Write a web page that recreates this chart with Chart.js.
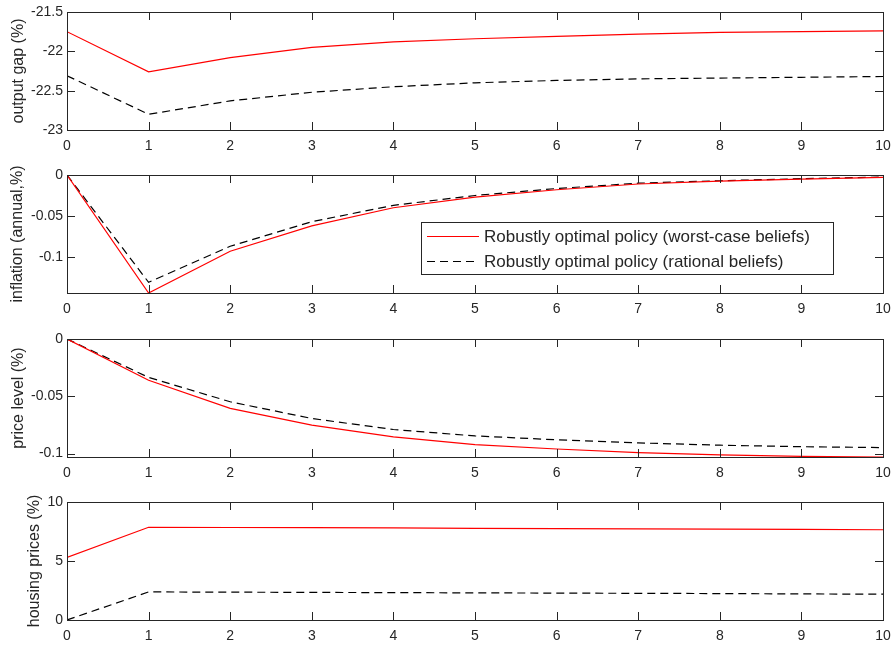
<!DOCTYPE html>
<html><head><meta charset="utf-8">
<script src="https://cdn.jsdelivr.net/npm/chart.js@4/dist/chart.umd.min.js"></script>
<style>
html,body{margin:0;padding:0;background:#fff;width:892px;height:646px;overflow:hidden;position:relative}
canvas{position:absolute;left:0}
</style></head><body>
<canvas id="c0" width="892" height="158" style="top:0px"></canvas>
<canvas id="c1" width="892" height="158" style="top:163px"></canvas>
<canvas id="c2" width="892" height="158" style="top:327px"></canvas>
<canvas id="c3" width="892" height="158" style="top:490px"></canvas>
<script>
// ---- data ----
const periods = [0,1,2,3,4,5,6,7,8,9,10];
const xTicks = [0,1,2,3,4,5,6,7,8,9,10];
const seriesLabels = ['Robustly optimal policy (worst-case beliefs)', 'Robustly optimal policy (rational beliefs)'];

const outputGapWorst    = [-21.75,-22.26,-22.08,-21.95,-21.88,-21.84,-21.81,-21.78,-21.76,-21.75,-21.74];
const outputGapRational = [-22.31,-22.80,-22.63,-22.52,-22.45,-22.40,-22.37,-22.35,-22.34,-22.33,-22.32];
const outputGapTicks = [-23,-22.5,-22,-21.5];

const inflationWorst    = [0,-0.144,-0.093,-0.062,-0.040,-0.027,-0.018,-0.011,-0.0075,-0.005,-0.003];
const inflationRational = [0,-0.131,-0.087,-0.057,-0.037,-0.025,-0.0165,-0.010,-0.007,-0.0045,-0.0025];
const inflationTicks = [-0.1,-0.05,0];

const priceWorst    = [0,-0.036,-0.0606,-0.0752,-0.0855,-0.0922,-0.0960,-0.0991,-0.1012,-0.1024,-0.1030];
const priceRational = [0,-0.0335,-0.0548,-0.0694,-0.0790,-0.0846,-0.0880,-0.0907,-0.0927,-0.0940,-0.0948];
const priceTicks = [-0.1,-0.05,0];

const housingWorst    = [5.3,7.86,7.84,7.82,7.80,7.77,7.75,7.72,7.70,7.68,7.65];
const housingRational = [0,2.38,2.36,2.34,2.32,2.30,2.28,2.26,2.24,2.21,2.19];
const housingTicks = [0,5,10];

// ---- style ----
const AX = '#262626';
const FONT = '"Liberation Sans", Arial, Helvetica, sans-serif';
Chart.defaults.font.family = FONT;
Chart.defaults.color = AX;

const matlabAxes = {
  id: 'matlabAxes',
  afterDatasetsDraw(chart) {
    const {ctx, chartArea: {left, right, top, bottom}, scales: {x, y}} = chart;
    const tl = 8;
    ctx.save();
    ctx.strokeStyle = AX;
    ctx.lineWidth = 1;
    ctx.beginPath();
    x.ticks.forEach(t => {
      const px = Math.round(x.getPixelForValue(t.value)) + 0.5;
      ctx.moveTo(px, bottom); ctx.lineTo(px, bottom - tl);
      ctx.moveTo(px, top); ctx.lineTo(px, top + tl);
    });
    y.ticks.forEach(t => {
      const py = Math.round(y.getPixelForValue(t.value)) + 0.5;
      ctx.moveTo(left, py); ctx.lineTo(left + tl, py);
      ctx.moveTo(right, py); ctx.lineTo(right - tl, py);
    });
    ctx.stroke();
    ctx.strokeRect(Math.round(left) + 0.5, Math.round(top) + 0.5, Math.round(right - left), Math.round(bottom - top));
    ctx.restore();
  }
};

const matlabLegend = {
  id: 'matlabLegend',
  afterDraw(chart, args, opts) {
    if (!opts || !opts.show) return;
    const {ctx, chartArea: {left, top}} = chart;
    const bx = left + 354, by = top + 47, bw = 412, bh = 52;
    ctx.save();
    ctx.fillStyle = '#fff';
    ctx.fillRect(bx, by, bw, bh);
    ctx.strokeStyle = AX; ctx.lineWidth = 1;
    ctx.strokeRect(Math.round(bx) + 0.5, Math.round(by) + 0.5, bw, bh);
    ctx.font = '17px ' + FONT;
    ctx.textBaseline = 'middle';
    ctx.fillStyle = AX;
    chart.data.datasets.forEach((ds, i) => {
      const ry = Math.round(by + 14 + i * 24.5) + 0.5;
      ctx.strokeStyle = ds.borderColor;
      ctx.lineWidth = ds.borderWidth;
      ctx.setLineDash(ds.borderDash || []);
      ctx.beginPath(); ctx.moveTo(bx + 6, ry); ctx.lineTo(bx + 58, ry); ctx.stroke();
      ctx.setLineDash([]);
      ctx.fillText(ds.label, bx + 63, ry + 1);
    });
    ctx.restore();
  }
};

function makePanel(id, yTitle, titlePad, yMin, yMax, yTicks, worst, rational, showLegend) {
  return new Chart(document.getElementById(id), {
    type: 'line',
    data: {
      datasets: [
        {label: seriesLabels[0], data: periods.map((p, i) => ({x: p, y: worst[i]})),
         borderColor: '#ff0000', borderWidth: 1.2, pointRadius: 0, fill: false, tension: 0},
        {label: seriesLabels[1], data: periods.map((p, i) => ({x: p, y: rational[i]})),
         borderColor: '#000000', borderWidth: 1.2, borderDash: [8, 5], pointRadius: 0, fill: false, tension: 0}
      ]
    },
    options: {
      responsive: false, animation: false, devicePixelRatio: 1,
      layout: {padding: {top: 12, right: 9, left: 0, bottom: 0}},
      plugins: {legend: {display: false}, tooltip: {enabled: false}, matlabLegend: {show: showLegend}},
      scales: {
        x: {
          type: 'linear', min: 0, max: 10,
          grid: {display: false, drawTicks: false, tickLength: 0}, border: {display: false},
          afterBuildTicks: s => { s.ticks = xTicks.map(v => ({value: v})); },
          afterFit: s => { s.height = 28; s.paddingLeft = 0; s.paddingRight = 0; },
          ticks: {padding: 8, font: {size: 14}, color: AX, maxRotation: 0, autoSkip: false, callback: v => String(v)}
        },
        y: {
          type: 'linear', min: yMin, max: yMax,
          grid: {display: false, drawTicks: false, tickLength: 0}, border: {display: false},
          afterBuildTicks: s => { s.ticks = yTicks.map(v => ({value: v})); },
          afterFit: s => { s.width = 67; s.paddingTop = 0; s.paddingBottom = 0; },
          ticks: {padding: 4, font: {size: 14}, color: AX, autoSkip: false, callback: v => String(v)},
          title: {display: true, text: yTitle, font: {size: 16}, color: AX, padding: {top: titlePad, bottom: 0}}
        }
      }
    },
    plugins: [matlabAxes, matlabLegend]
  });
}

makePanel('c0', 'output gap (%)', 9.2, -23, -21.5, outputGapTicks, outputGapWorst, outputGapRational, false);
makePanel('c1', 'inflation (annual,%)', 8.2, -0.144, 0, inflationTicks, inflationWorst, inflationRational, true);
makePanel('c2', 'price level (%)', 9.2, -0.103, 0, priceTicks, priceWorst, priceRational, false);
makePanel('c3', 'housing prices (%)', 24.8, 0, 10, housingTicks, housingWorst, housingRational, false);
</script>
</body></html>
